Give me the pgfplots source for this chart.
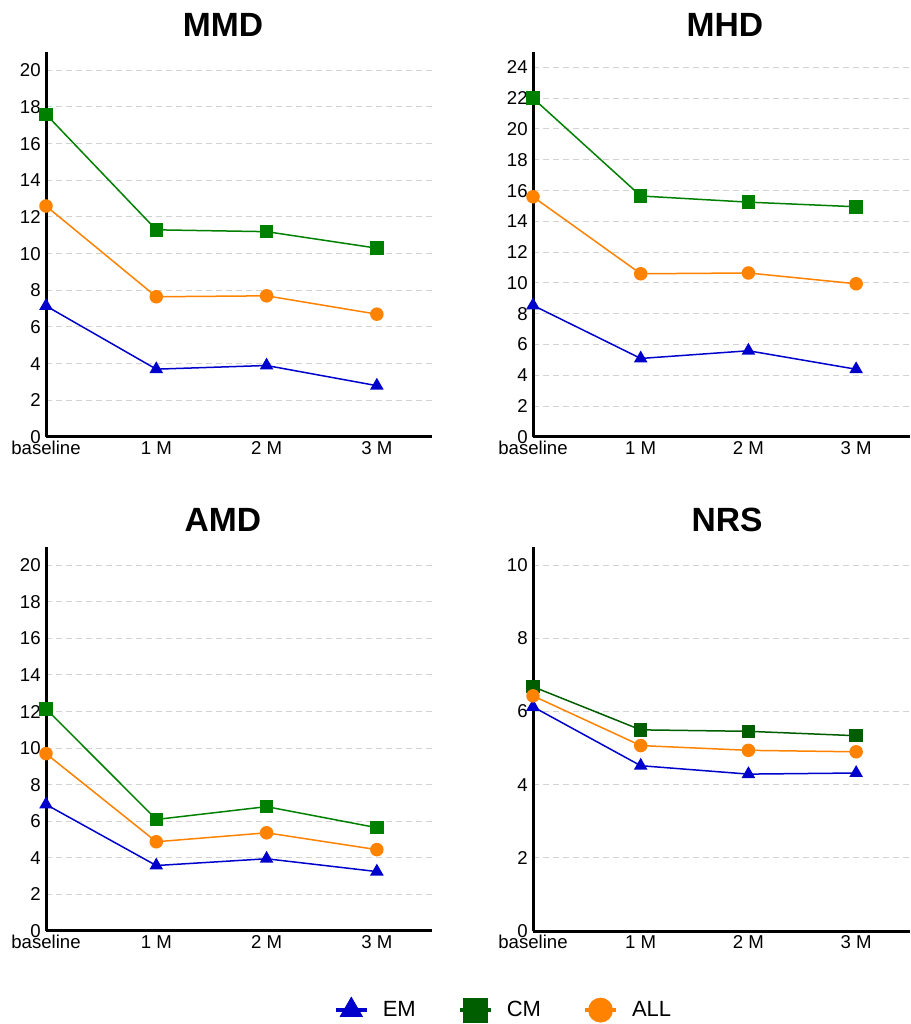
\documentclass[border=0pt]{standalone}
\usepackage{fontspec}
\setmainfont{Liberation Sans}
\usepackage{pgfplots}
\pgfplotsset{compat=1.18}
\definecolor{emc}{HTML}{0000CC}
\definecolor{cmc}{HTML}{008000}
\definecolor{cmd}{HTML}{005E00}
\definecolor{allc}{HTML}{FF8200}
\definecolor{gridc}{HTML}{D3D3D3}
\pgfplotsset{
 panel/.style={
  scale only axis, width=193pt, height=192.5pt, anchor=south west,
  axis x line*=bottom, axis y line*=left,
  axis line style={line width=1.5pt, -},
  xmin=0, xmax=3.5, ymin=0,
  xtick={0,1,2,3}, xticklabels={baseline,1 M,2 M,3 M},
  major tick length=0pt,
  ymajorgrids, grid style={gridc, dash pattern=on 3pt off 2pt, line width=0.5pt},
  tick label style={font=\fontsize{9.3}{11}\selectfont},
  /pgf/number format/assume math mode=true,
  yticklabel style={inner xsep=0pt, xshift=-2.5pt},
  xticklabel style={inner ysep=0pt, yshift=-2pt},
  title style={font=\fontsize{16.8}{20}\selectfont\bfseries, anchor=center, yshift=7.55pt},
  clip=false,
 },
 em/.style={emc, line width=0.75pt, mark=triangle*, mark size=3.2pt, mark options={solid}},
 cm/.style={cmc, line width=0.75pt, mark=square*, mark size=3pt, mark options={solid}},
 all/.style={allc, line width=0.75pt, mark=*, mark size=3pt, mark options={solid}},
}
\begin{document}
\begin{tikzpicture}
\path[use as bounding box] (0,0) rectangle (455.5pt,512pt);
% MMD
\begin{axis}[panel, at={(23pt,293.5pt)}, ymax=21, ytick={0,2,...,20},
  title={MMD}, title style={at={(0.4585,1)}}]
\addplot[em] coordinates {(0,7.15) (1,3.7) (2,3.9) (3,2.8)};
\addplot[cm] coordinates {(0,17.6) (1,11.3) (2,11.2) (3,10.3)};
\addplot[all] coordinates {(0,12.6) (1,7.65) (2,7.7) (3,6.7)};
\end{axis}
% MHD
\begin{axis}[panel, width=188.5pt, at={(266.5pt,293.5pt)}, ymax=25, ytick={0,2,...,24},
  title={MHD}, title style={at={(0.509,1)}}]
\addplot[em] coordinates {(0,8.55) (1,5.1) (2,5.6) (3,4.4)};
\addplot[cm] coordinates {(0,22.0) (1,15.65) (2,15.25) (3,14.95)};
\addplot[all] coordinates {(0,15.6) (1,10.6) (2,10.65) (3,9.95)};
\end{axis}
% AMD
\begin{axis}[panel, height=192pt, at={(23pt,46.5pt)}, ymax=21, ytick={0,2,...,20},
  title={AMD}, title style={at={(0.4585,1)}}]
\addplot[em] coordinates {(0,6.92) (1,3.58) (2,3.95) (3,3.25)};
\addplot[cm] coordinates {(0,12.15) (1,6.1) (2,6.8) (3,5.65)};
\addplot[all] coordinates {(0,9.7) (1,4.88) (2,5.37) (3,4.45)};
\end{axis}
% NRS
\begin{axis}[panel, width=188.5pt, height=192pt, at={(266.5pt,46.5pt)}, ymax=10.5, ytick={0,2,...,10},
  title={NRS}, title style={at={(0.515,1)}},
  legend columns=3,
  legend style={at={(-0.0756,-0.206)}, anchor=center, draw=none, fill=none,
    font=\fontsize{11}{13}\selectfont,
    /tikz/every odd column/.append style={column sep=5pt},
    /tikz/every even column/.append style={column sep=19pt}},
  legend image code/.code={\draw[mark repeat=2, mark phase=2, #1, line width=2pt,
    every mark/.append style={scale=2, line width=0.4pt}]
    plot coordinates {(0pt,0pt) (7.75pt,0pt) (15.5pt,0pt)};}]
\addplot[em] coordinates {(0,6.13) (1,4.52) (2,4.29) (3,4.32)};
\addplot[cm, cmd] coordinates {(0,6.68) (1,5.5) (2,5.46) (3,5.34)};
\addplot[all] coordinates {(0,6.43) (1,5.07) (2,4.94) (3,4.9)};
\legend{EM,CM,ALL}
\end{axis}
\end{tikzpicture}
\end{document}
